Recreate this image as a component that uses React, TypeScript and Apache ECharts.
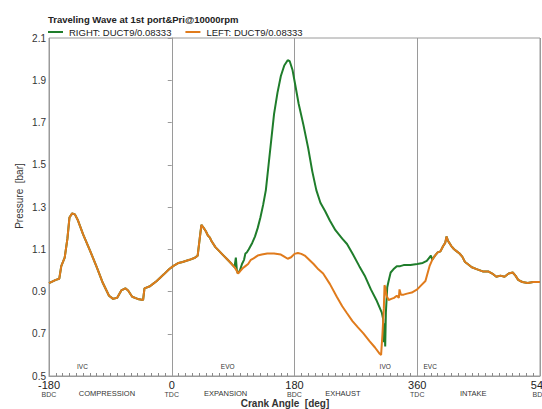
import React, { useEffect, useRef } from "react";
import * as echarts from "echarts";

// Shared trace (both ducts coincide) : crank angle [deg] and pressure [bar]
const commonAngles = [-180, -170, -165, -162, -157, -153, -150, -146, -142, -138, -130, -120, -110, -101, -92, -86, -80, -74, -68, -64, -58, -50, -42, -40, -32, -28, -22, -12, -4, 2, 10, 16, 26, 34, 38, 41, 43.5, 47, 50, 53, 56, 58, 64, 70, 76, 82, 88, 92];
const commonPressure = [0.94, 0.955, 0.96, 1.02, 1.06, 1.15, 1.25, 1.27, 1.265, 1.24, 1.17, 1.095, 1.015, 0.94, 0.88, 0.865, 0.87, 0.905, 0.915, 0.905, 0.875, 0.865, 0.86, 0.915, 0.925, 0.935, 0.95, 0.98, 1.005, 1.02, 1.035, 1.04, 1.05, 1.06, 1.07, 1.15, 1.215, 1.2, 1.185, 1.165, 1.155, 1.14, 1.11, 1.09, 1.07, 1.05, 1.03, 1.015];

// RIGHT duct only section
const rightAngles = [94, 95.5, 97, 100, 103, 106, 108, 110, 113, 118, 122, 126, 130, 134, 138, 142, 146, 150, 155, 160, 165, 170, 173, 177, 181, 186, 193, 200, 206, 212, 218, 225, 232, 240, 250, 257, 265, 275, 283, 292, 300, 308, 310, 311, 312, 313, 314, 316, 318, 321, 325, 330, 335, 340, 350, 360, 368, 374, 380];
const rightPressure = [1.06, 1.0, 0.985, 1.0, 1.03, 1.05, 1.08, 1.085, 1.1, 1.13, 1.16, 1.2, 1.25, 1.31, 1.38, 1.5, 1.62, 1.74, 1.84, 1.92, 1.97, 1.995, 1.99, 1.95, 1.88, 1.79, 1.69, 1.58, 1.47, 1.38, 1.32, 1.28, 1.235, 1.19, 1.15, 1.125, 1.08, 1.02, 0.975, 0.91, 0.86, 0.8, 0.77, 0.66, 0.75, 0.64, 0.8, 0.92, 0.95, 0.99, 1.005, 1.02, 1.02, 1.025, 1.025, 1.03, 1.035, 1.045, 1.07];

// LEFT duct only section
const leftAngles = [95, 97, 100, 104, 108, 112, 116, 120, 126, 132, 140, 150, 160, 165, 170, 175, 180, 185, 190, 195, 200, 208, 215, 222, 232, 242, 250, 257, 265, 273, 281, 290, 298, 305, 307, 309, 311, 312, 313, 315, 318, 322, 326, 330, 333, 334, 336, 340, 345, 352, 360, 366, 372, 378];
const leftPressure = [1.0, 0.985, 0.995, 1.01, 1.02, 1.03, 1.05, 1.057, 1.07, 1.075, 1.08, 1.08, 1.075, 1.065, 1.055, 1.062, 1.078, 1.082, 1.078, 1.07, 1.055, 1.03, 1.005, 0.985, 0.935, 0.875, 0.83, 0.797, 0.76, 0.73, 0.702, 0.665, 0.635, 0.605, 0.6, 0.7, 0.82, 0.93, 0.92, 0.88, 0.86, 0.865, 0.87, 0.88, 0.87, 0.91, 0.885, 0.885, 0.89, 0.895, 0.91, 0.93, 0.95, 1.02];

// Shared tail (both ducts coincide again)
const tailAngles = [382, 386, 390, 394, 398, 401, 403, 405, 407, 410, 414, 418, 422, 426, 430, 434, 440, 448, 456, 464, 470, 476, 482, 488, 494, 500, 504, 508, 514, 522, 530, 540];
const tailPressure = [1.05, 1.07, 1.085, 1.09, 1.115, 1.13, 1.16, 1.14, 1.13, 1.115, 1.1, 1.09, 1.08, 1.065, 1.04, 1.03, 1.015, 1.005, 0.995, 0.995, 0.985, 0.97, 0.975, 0.97, 0.985, 0.99, 0.975, 0.955, 0.945, 0.94, 0.945, 0.945];

const xTicks = [-180, 0, 180, 360, 540];
const xTickNames = ["BDC", "TDC", "BDC", "TDC", "BDC"];
const phaseLabels = ["COMPRESSION", "EXPANSION", "EXHAUST", "INTAKE"];
const phaseAngles = [-95, 79, 251, 442];
const eventLabels = ["IVC", "EVO", "IVO", "EVC"];
const eventAngles = [-131, 82, 313, 379];

const zip = (a: number[], b: number[]) => a.map((v, i) => [v, b[i]]);

const rightData = [
  ...zip(commonAngles, commonPressure),
  ...zip(rightAngles, rightPressure),
  ...zip(tailAngles, tailPressure),
];
const leftData = [
  ...zip(commonAngles, commonPressure),
  ...zip(leftAngles, leftPressure),
  ...zip(tailAngles, tailPressure),
];

const FONT = "Liberation Sans, Arial, sans-serif";
const GREEN = "#1f7d2b";
const ORANGE = "#e07b1c";

export default function App() {
  const ref = useRef<HTMLDivElement>(null);
  useEffect(() => {
    if (!ref.current) return;
    const chart = echarts.init(ref.current, null, { renderer: "svg" });
    chart.setOption({
      animation: false,
      backgroundColor: "#fff",
      textStyle: { fontFamily: FONT },
      title: {
        text: "Traveling Wave at 1st port&Pri@10000rpm",
        left: 48,
        top: 14,
        padding: 0,
        textStyle: { fontSize: 9.5, fontWeight: "bold", color: "#222", fontFamily: FONT },
      },
      legend: {
        left: 48,
        top: 27,
        padding: 0,
        itemWidth: 15,
        itemHeight: 2,
        itemGap: 14,
        icon: "rect",
        textStyle: { fontSize: 9.5, color: "#222", fontFamily: FONT, padding: [0, 0, 0, 1] },
        data: ["RIGHT: DUCT9/0.08333", "LEFT: DUCT9/0.08333"],
      },
      grid: {
        left: 49,
        right: 2,
        top: 38,
        bottom: 33,
        show: true,
        borderColor: "#9a9a9a",
        borderWidth: 1,
        containLabel: false,
        outerBoundsMode: "none",
      },
      xAxis: {
        type: "value",
        min: -180,
        max: 540,
        interval: 180,
        axisLine: { show: true, onZero: false, lineStyle: { color: "#9a9a9a" } },
        axisTick: { show: true, inside: true, length: 4, lineStyle: { color: "#9a9a9a" } },
        minorTick: { show: true, splitNumber: 18, length: 3, lineStyle: { color: "#8a8a8a" } },
        splitLine: { show: true, lineStyle: { color: "#9a9a9a", width: 1 } },
        axisLabel: {
          showMaxLabel: true,
          showMinLabel: true,
          hideOverlap: false,
          margin: 4,
          formatter: (v: number) => {
            const i = xTicks.indexOf(v);
            return `{a|${v}}\n{b|${i >= 0 ? xTickNames[i] : ""}}`;
          },
          rich: {
            a: { fontSize: 11, color: "#222", lineHeight: 10, fontFamily: FONT },
            b: { fontSize: 7, color: "#444", lineHeight: 9, fontFamily: FONT },
          },
        },
      },
      yAxis: {
        type: "value",
        min: 0.5,
        max: 2.1,
        interval: 0.2,
        axisLine: { show: true, lineStyle: { color: "#9a9a9a" } },
        axisTick: { show: true, inside: false, length: 4, lineStyle: { color: "#9a9a9a" } },
        splitLine: { show: false },
        axisLabel: {
          margin: 3,
          fontSize: 10,
          color: "#333",
          fontFamily: FONT,
          formatter: (v: number) => v.toFixed(1),
        },
      },
      series: [
        {
          name: "RIGHT: DUCT9/0.08333",
          type: "line",
          data: rightData,
          showSymbol: false,
          symbol: "none",
          lineStyle: { color: GREEN, width: 2 },
          itemStyle: { color: GREEN },
        },
        {
          name: "LEFT: DUCT9/0.08333",
          type: "line",
          data: leftData,
          showSymbol: false,
          symbol: "none",
          lineStyle: { color: ORANGE, width: 2 },
          itemStyle: { color: ORANGE },
        },
      ],
    });

    const graphics: any[] = [];
    phaseLabels.forEach((t, i) => {
      const [px] = chart.convertToPixel({ gridIndex: 0 }, [phaseAngles[i], 0.5]) as number[];
      graphics.push({
        type: "text",
        x: px,
        y: 393,
        style: { text: t, fontSize: 7.5, fill: "#333", fontFamily: FONT, align: "center", verticalAlign: "middle" },
      });
    });
    eventLabels.forEach((t, i) => {
      const [px] = chart.convertToPixel({ gridIndex: 0 }, [eventAngles[i], 0.5]) as number[];
      graphics.push({
        type: "text",
        x: px,
        y: 366,
        style: { text: t, fontSize: 6.5, fill: "#333", fontFamily: FONT, align: "center", verticalAlign: "middle" },
      });
    });
    graphics.push({
      type: "text",
      x: 285,
      y: 403,
      style: { text: "Crank Angle  [deg]", fontSize: 10, fontWeight: "bold", fill: "#333", fontFamily: FONT, align: "center", verticalAlign: "middle" },
    });
    graphics.push({
      type: "text",
      x: 19,
      y: 196,
      rotation: Math.PI / 2,
      style: { text: "Pressure  [bar]", fontSize: 10, fill: "#333", fontFamily: FONT, align: "center", verticalAlign: "middle" },
    });
    chart.setOption({ graphic: graphics });

    return () => chart.dispose();
  }, []);
  return (
    <div
      ref={ref}
      style={{ position: "fixed", left: 0, top: 0, width: 542, height: 409, background: "#fff" }}
    />
  );
}
